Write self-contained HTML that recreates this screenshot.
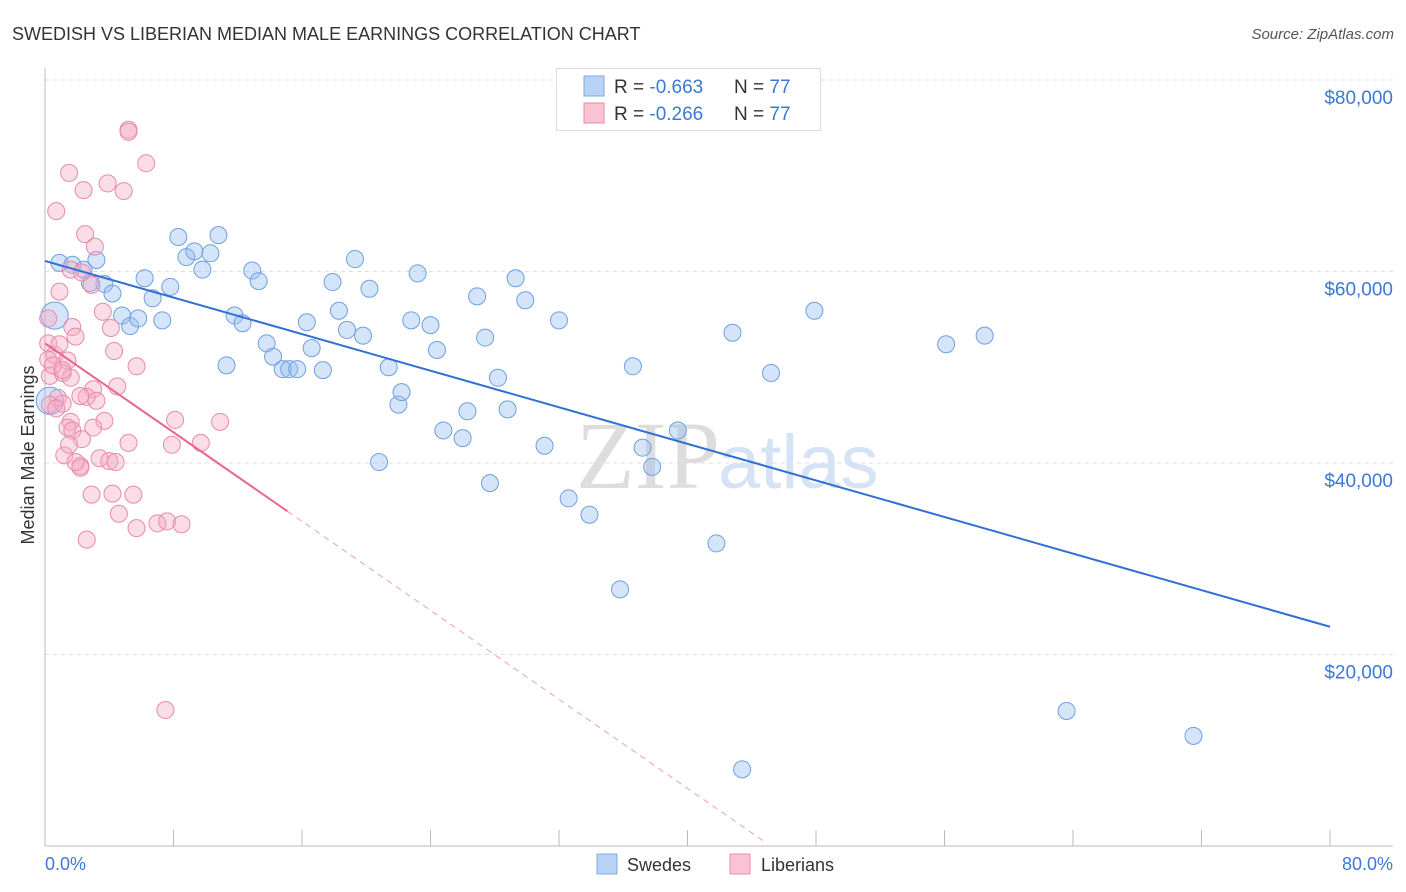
<!DOCTYPE html>
<html><head><meta charset="utf-8"><style>
body{margin:0;background:#fff;font-family:"Liberation Sans",sans-serif;}
svg{display:block}
</style></head><body>
<svg id="chart" width="1406" height="892">
<text x="12" y="40" font-size="18" fill="#333">SWEDISH VS LIBERIAN MEDIAN MALE EARNINGS CORRELATION CHART</text>
<text x="1394" y="39" font-size="15" fill="#555" font-style="italic" text-anchor="end">Source: ZipAtlas.com</text>
<g id="grid"></g>
<text x="720" y="488" font-size="96" font-family="Liberation Serif,serif" fill="#ddd" text-anchor="end">ZIP</text>
<text x="718" y="488" font-size="76" fill="#d5e3f5">atlas</text>
<line x1="45" y1="68" x2="45" y2="846" stroke="#bbb"/>
<line x1="45" y1="846" x2="1393" y2="846" stroke="#bbb"/>
<g id="xticks"></g>
<text transform="translate(34,455) rotate(-90)" font-size="18" fill="#333" text-anchor="middle">Median Male Earnings</text>
<text x="45" y="870" font-size="18" fill="#3b78d8">0.0%</text>
<text x="1393" y="870" font-size="18" fill="#3b78d8" text-anchor="end">80.0%</text>
<g id="pts"></g>
<g id="trends"></g>
<g>
<rect x="556.5" y="68.5" width="264" height="62" fill="#fff" stroke="#ddd"/>
<rect x="584" y="76" width="20" height="20" fill="#b8d2f5" stroke="#7fa9e0"/>
<rect x="584" y="103" width="20" height="20" fill="#f9c3d3" stroke="#e98aa8"/>
<text x="614" y="93" font-size="19" fill="#333">R = <tspan fill="#3b78d8">-0.663</tspan></text>
<text x="734" y="93" font-size="19" fill="#333">N = <tspan fill="#3b78d8">77</tspan></text>
<text x="614" y="120" font-size="19" fill="#333">R = <tspan fill="#3b78d8">-0.266</tspan></text>
<text x="734" y="120" font-size="19" fill="#333">N = <tspan fill="#3b78d8">77</tspan></text>
</g>
<g>
<rect x="597" y="854" width="20" height="20" fill="#b8d2f5" stroke="#7fa9e0"/>
<text x="627" y="871" font-size="18" fill="#333">Swedes</text>
<rect x="730" y="854" width="20" height="20" fill="#f9c3d3" stroke="#e98aa8"/>
<text x="761" y="871" font-size="18" fill="#333">Liberians</text>
</g>
</svg>
<script>
const yTicks=[20000,40000,60000,80000];
const yTickLabels=["$20,000","$40,000","$60,000","$80,000"];
const xTicks=[0,8,16,24,32,40,48,56,64,72,80];
const swedesX=[0.9,1.7,3.2,2.4,3.7,4.2,2.8,0.6,4.8,5.3,5.8,6.2,6.7,7.3,7.8,8.3,8.8,9.3,9.8,10.3,10.8,11.3,11.8,12.3,12.9,13.3,13.8,14.2,14.8,15.2,15.7,16.3,16.6,17.3,17.9,18.3,18.8,19.3,19.8,20.2,20.8,21.4,22.0,22.2,22.8,23.2,24.0,24.4,24.8,26.0,26.3,26.9,27.4,27.7,28.2,28.8,29.3,29.9,31.1,32.0,32.6,33.9,35.8,36.6,37.2,37.8,39.4,41.8,42.8,43.4,45.2,47.9,56.1,58.5,63.6,71.5,0.3];
const swedesY=[60.9,60.7,61.2,60.2,58.7,57.7,58.8,55.4,55.4,54.3,55.1,59.3,57.2,54.9,58.4,63.6,61.5,62.1,60.2,61.9,63.8,50.2,55.4,54.6,60.1,59.0,52.5,51.1,49.8,49.8,49.8,54.7,52.0,49.7,58.9,55.9,53.9,61.3,53.3,58.2,40.1,50.0,46.1,47.4,54.9,59.8,54.4,51.8,43.4,42.6,45.4,57.4,53.1,37.9,48.9,45.6,59.3,57.0,41.8,54.9,36.3,34.6,26.8,50.1,41.6,39.6,43.4,31.6,53.6,8.0,49.4,55.9,52.4,53.3,14.1,11.5,46.5];
const swedesSize=[1,1,1,1,1,1,1,1.6,1,1,1,1,1,1,1,1,1,1,1,1,1,1,1,1,1,1,1,1,1,1,1,1,1,1,1,1,1,1,1,1,1,1,1,1,1,1,1,1,1,1,1,1,1,1,1,1,1,1,1,1,1,1,1,1,1,1,1,1,1,1,1,1,1,1,1,1,1.6];
const liberiansX=[5.2,5.2,6.3,1.5,2.4,3.9,4.9,0.7,2.5,3.1,1.6,2.3,2.9,0.9,3.6,1.7,0.2,1.9,4.1,4.3,0.2,0.6,1.4,5.7,0.3,1.1,1.6,3.0,4.5,0.8,2.6,3.2,0.3,1.1,2.2,1.6,3.7,8.1,10.9,1.4,1.7,3.0,2.3,5.2,7.9,9.7,1.2,3.4,4.0,4.4,2.2,2.2,2.9,4.2,5.5,4.6,5.7,7.0,7.6,8.5,2.6,7.5,0.9,0.2,0.5,1.1,0.7,1.5,1.9];
const liberiansY=[74.8,74.6,71.3,70.3,68.5,69.2,68.4,66.3,63.9,62.6,60.2,59.9,58.6,57.9,55.8,54.2,55.1,53.2,54.1,51.7,52.5,51.3,50.7,50.1,49.1,49.4,48.9,47.7,48.0,46.8,46.9,46.5,46.1,46.2,47.0,44.3,44.4,44.5,44.3,43.7,43.4,43.7,42.5,42.1,41.9,42.1,40.8,40.5,40.2,40.1,39.7,39.5,36.7,36.8,36.7,34.7,33.2,33.7,33.9,33.6,32.0,14.2,52.4,50.8,50.2,49.7,45.7,41.9,40.1];
const swedesTrend=[61.1,22.9];      // y (k$) at x=0 and x=80
const liberiansTrend=[52.5,-1.162]; // intercept (k$), slope per %
const liberiansSolidEnd=15.1, liberiansDashEnd=44.7;

const X=v=>45+v*(1285/80);
const Y=v=>846-v*(191.5/20000);
const NS="http://www.w3.org/2000/svg";
function mk(tag,attrs,parent){const e=document.createElementNS(NS,tag);for(const k in attrs)e.setAttribute(k,attrs[k]);parent.appendChild(e);return e;}
const grid=document.getElementById('grid');
yTicks.forEach((t,i)=>{
  const l=mk('line',{x1:45,x2:1393,y1:Y(t),y2:Y(t),stroke:'#ddd','stroke-dasharray':'4,4'},grid);
  
  
  const tx=mk('text',{x:1393,y:Y(t)+24,'font-size':19,fill:'#3b78d8','text-anchor':'end'},grid);
  tx.textContent=yTickLabels[i];
  
  
});
const xt=document.getElementById('xticks');
xTicks.forEach(t=>{
  const l=mk('line',{x1:X(t),x2:X(t),y1:830,y2:846,stroke:'#bbb'},xt);
  
  
});
const pts=document.getElementById('pts');
swedesX.forEach((x,i)=>{
  const c=mk('circle',{cx:X(x),cy:Y(swedesY[i]*1000),r:8.5*swedesSize[i],fill:'rgba(150,190,240,0.4)',stroke:'#6f9fe0','stroke-width':1},pts);
  
  
});
liberiansX.forEach((x,i)=>{
  const c=mk('circle',{cx:X(x),cy:Y(liberiansY[i]*1000),r:8.5,fill:'rgba(245,170,195,0.4)',stroke:'#e98aa8','stroke-width':1},pts);
  
  
});
const tr=document.getElementById('trends');
const bl=mk('line',{x1:X(0),y1:Y(swedesTrend[0]*1000),x2:X(80),y2:Y(swedesTrend[1]*1000),stroke:'#2f6fd6','stroke-width':2},tr);


const py=x=>(liberiansTrend[0]+liberiansTrend[1]*x)*1000;
const pl=mk('line',{x1:X(0),y1:Y(py(0)),x2:X(liberiansSolidEnd),y2:Y(py(liberiansSolidEnd)),stroke:'#e8668f','stroke-width':2},tr);


const pd=mk('line',{x1:X(liberiansSolidEnd),y1:Y(py(liberiansSolidEnd)),x2:X(liberiansDashEnd),y2:Y(py(liberiansDashEnd)),stroke:'#eaa0b8','stroke-width':1,'stroke-dasharray':'6,5'},tr);


</script>
</body></html>
